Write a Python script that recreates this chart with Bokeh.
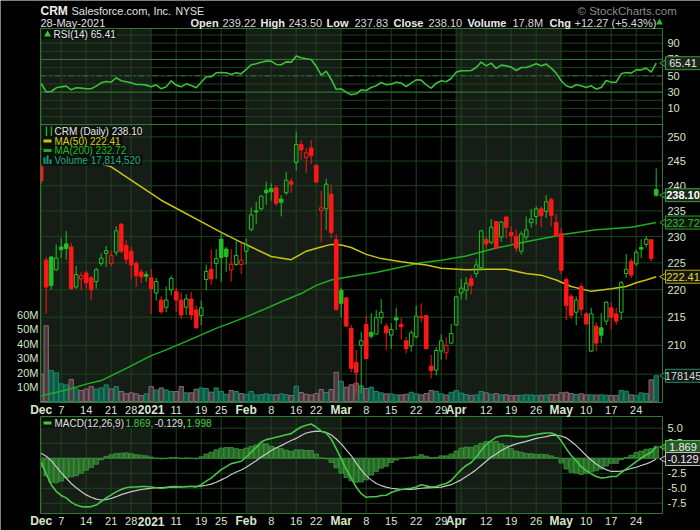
import numpy as np
import pandas as pd
from bokeh.plotting import figure
from bokeh.models import Range1d, LinearScale, LogScale, ColumnDataSource
from bokeh.core.properties import value
from bokeh.embed import file_html
from bokeh.resources import INLINE

# ---------------- data ----------------
holidays = ["2020-12-25", "2021-01-01", "2021-01-18", "2021-02-15", "2021-04-02"]
dates = pd.bdate_range("2020-12-01", "2021-05-28", freq="C", holidays=holidays)

opens = [243.9, 225.5, 226.1, 223.7, 228.0, 228.6, 228.0, 220.5, 222.0, 223.1,
         222.2, 221.5, 224.9, 226.8, 224.9, 227.0, 232.4, 228.3, 227.2, 224.9,
         223.3, 222.8, 222.2, 219.4, 218.1, 216.8, 220.0, 219.7, 218.1, 216.8,
         218.3, 216.3, 215.3, 221.9, 223.8, 224.9, 229.5, 227.6, 223.7, 224.7,
         224.7, 227.2, 231.4, 235.0, 235.4, 239.1, 239.4, 239.6, 237.3, 238.6,
         240.8, 244.7, 248.4, 245.7, 247.7, 244.1, 235.1, 235.4, 238.3, 229.4,
         219.9, 218.5, 213.0, 207.0, 210.0, 213.7, 212.3, 212.0, 214.9, 213.4,
         211.8, 214.9, 213.7, 210.8, 209.9, 211.5, 215.1, 215.3, 206.4, 205.7,
         209.0, 208.7, 210.4, 213.6, 219.4, 219.9, 222.0, 223.0, 224.1, 229.4,
         228.9, 232.9, 229.9, 233.8, 230.8, 230.0, 227.2, 229.9, 232.7, 233.9,
         235.4, 234.9, 237.2, 232.7, 230.6, 221.9, 218.8, 215.9, 220.6, 215.6,
         209.0, 213.4, 213.1, 214.3, 216.7, 215.6, 215.9, 223.0, 225.3, 224.8,
         227.9, 228.5, 229.4, 239.22]
highs = [244.6, 226.1, 226.3, 228.5, 229.7, 231.1, 228.8, 224.4, 223.3, 223.5,
         222.6, 224.1, 226.8, 228.2, 227.3, 232.0, 232.6, 229.3, 228.0, 225.3,
         223.8, 223.4, 223.8, 222.2, 218.8, 220.6, 222.6, 220.4, 219.5, 219.2,
         219.6, 217.1, 218.0, 224.7, 227.5, 227.6, 230.6, 228.0, 227.6, 229.3,
         228.8, 229.7, 235.7, 236.8, 238.1, 240.8, 240.5, 240.0, 238.1, 242.8,
         241.5, 251.1, 249.3, 247.7, 249.3, 244.3, 239.0, 241.4, 240.2, 230.4,
         220.4, 218.7, 213.6, 209.2, 212.4, 215.3, 215.7, 216.3, 218.3, 213.9,
         213.9, 216.7, 214.9, 211.5, 212.7, 217.1, 217.5, 215.4, 208.3, 209.7,
         211.9, 211.4, 213.8, 218.8, 222.0, 222.3, 222.7, 225.7, 231.3, 229.9,
         233.4, 233.0, 233.0, 233.9, 232.0, 231.3, 231.0, 233.9, 235.4, 235.9,
         235.9, 238.1, 237.6, 234.4, 231.6, 222.3, 219.2, 218.8, 221.2, 215.9,
         216.7, 214.1, 215.7, 217.9, 217.7, 216.7, 221.6, 226.7, 225.8, 227.5,
         229.5, 230.1, 229.5, 243.50]
lows = [240.4, 215.6, 220.0, 223.5, 225.9, 225.6, 220.0, 220.1, 219.9, 220.2,
        218.1, 220.2, 224.4, 224.2, 224.4, 226.4, 226.8, 224.7, 222.0, 220.5,
        221.3, 221.5, 215.6, 218.0, 215.6, 215.9, 219.0, 215.9, 214.7, 215.4,
        214.5, 213.0, 213.6, 219.9, 220.9, 222.0, 221.5, 223.3, 221.5, 224.4,
        222.9, 224.7, 231.0, 232.4, 235.0, 236.2, 237.0, 236.0, 233.9, 238.1,
        238.6, 243.1, 245.3, 242.6, 244.4, 240.5, 228.9, 231.3, 229.7, 216.2,
        215.0, 213.3, 205.3, 201.7, 201.7, 207.5, 211.2, 211.9, 213.8, 209.2,
        209.4, 212.7, 211.0, 208.6, 208.9, 211.2, 214.1, 209.3, 204.3, 204.8,
        207.5, 207.5, 210.2, 213.5, 218.2, 218.2, 219.2, 222.3, 223.5, 227.5,
        228.5, 227.6, 229.0, 229.7, 228.8, 227.0, 226.6, 229.2, 231.7, 232.3,
        231.8, 233.6, 232.0, 229.9, 222.9, 214.5, 214.7, 213.6, 215.3, 213.6,
        208.8, 209.0, 210.4, 213.6, 212.8, 213.7, 214.5, 222.2, 222.2, 224.4,
        225.9, 227.9, 225.3, 237.83]
closes = [241.0, 220.5, 220.8, 225.9, 227.5, 227.7, 220.2, 222.8, 222.6, 221.3,
          220.0, 223.7, 225.9, 227.3, 226.4, 231.1, 227.2, 225.7, 224.6, 222.6,
          222.4, 222.5, 220.2, 221.5, 216.0, 218.1, 222.1, 218.1, 215.4, 218.3,
          215.4, 213.1, 216.7, 223.4, 222.0, 225.8, 226.0, 226.2, 224.7, 226.4,
          225.5, 228.5, 234.2, 234.8, 237.9, 238.6, 238.8, 236.5, 236.7, 241.1,
          240.3, 248.4, 247.3, 246.7, 246.1, 240.7, 235.6, 240.3, 230.8, 216.4,
          217.5, 213.4, 206.0, 205.3, 210.8, 207.7, 211.6, 214.9, 215.9, 212.2,
          212.8, 214.5, 213.3, 209.4, 212.2, 215.2, 214.9, 209.4, 205.6, 209.1,
          210.8, 210.0, 212.1, 218.7, 220.3, 221.2, 220.8, 224.6, 231.1, 228.6,
          231.8, 227.8, 232.8, 231.8, 230.2, 227.8, 230.5, 231.3, 233.4, 235.4,
          234.1, 236.8, 234.1, 230.2, 223.6, 217.1, 215.3, 218.1, 216.4, 213.8,
          215.6, 210.4, 211.8, 217.7, 215.0, 214.3, 221.3, 223.8, 222.7, 227.0,
          227.6, 229.5, 225.83, 238.10]
volume_m = [19.0, 52.4, 21.4, 19.8, 12.2, 11.5, 15.2, 8.7, 7.6, 8.7,
            10.3, 8.5, 9.4, 11.5, 8.7, 10.3, 6.9, 5.3, 6.0, 5.3,
            4.1, 5.3, 10.3, 8.0, 9.4, 8.0, 6.9, 6.9, 10.3, 6.0,
            6.0, 8.5, 9.4, 9.0, 6.5, 9.4, 7.0, 5.0, 7.6, 6.9,
            5.5, 5.0, 6.9, 4.5, 4.8, 5.3, 4.6, 4.6, 5.3, 4.8,
            4.2, 10.6, 6.2, 5.0, 4.5, 5.5, 8.3, 6.2, 8.3, 20.2,
            14.0, 9.9, 11.5, 12.6, 10.8, 9.0, 9.9, 6.9, 6.0, 5.3,
            5.3, 4.6, 4.6, 5.0, 6.4, 5.3, 4.6, 5.5, 7.6, 7.1,
            5.3, 4.5, 6.4, 7.6, 5.8, 4.8, 4.2, 4.6, 6.9, 6.0,
            5.0, 5.5, 4.6, 4.6, 4.0, 4.2, 4.4, 4.6, 4.6, 4.2,
            4.4, 4.5, 4.8, 4.6, 6.0, 6.4, 5.5, 4.8, 5.3, 4.6,
            4.6, 4.5, 4.6, 4.4, 4.2, 4.2, 7.6, 7.1, 4.6, 4.2,
            6.0, 5.5, 15.0, 17.81]
ma50_day = [0, 6, 14, 24, 36, 40, 42, 46, 50, 53, 56, 58, 60, 62, 65, 68, 72, 77,
            80, 85, 89, 93, 97, 100, 103, 106, 110, 114, 117, 119, 121, 123]
ma50_val = [247.6, 246.3, 243.8, 237.1, 230.8, 228.9, 228.0, 226.2, 225.6, 227.2,
            228.0, 228.5, 228.4, 227.9, 226.6, 225.8, 225.2, 224.6, 224.0, 223.7,
            223.8, 223.8, 223.0, 222.7, 221.8, 220.6, 219.7, 220.2, 220.6, 221.3,
            221.8, 222.41]
ma200_day = [0, 2, 5, 9, 12, 17, 22, 25, 29, 35, 40, 44, 48, 52, 55, 58, 61, 67,
             70, 76, 80, 85, 91, 98, 105, 111, 118, 123]
ma200_val = [201.3, 201.7, 202.3, 203.3, 203.9, 206.0, 208.2, 209.2, 210.7, 213.0,
             214.7, 216.2, 217.8, 219.3, 220.8, 221.8, 222.3, 223.2, 223.8, 225.0,
             225.5, 226.3, 227.8, 229.2, 230.5, 231.3, 231.8, 232.72]
rsi14 = [40.6, 30.4, 30.8, 35.3, 36.5, 37.4, 32.9, 35.3, 34.9, 34.1,
         34.1, 37.4, 41.4, 43.1, 42.2, 47.6, 43.9, 42.7, 41.4, 39.4,
         39.4, 38.6, 36.5, 39.0, 34.1, 36.5, 43.9, 38.6, 36.5, 40.2,
         38.2, 35.3, 42.2, 48.8, 48.8, 53.7, 54.1, 53.7, 51.6, 53.7,
         52.4, 57.8, 63.5, 64.7, 66.7, 68.0, 68.0, 63.9, 63.5, 67.1,
         66.7, 74.1, 72.0, 70.8, 70.0, 61.8, 50.8, 55.7, 45.5, 33.3,
         34.1, 30.0, 26.7, 28.0, 32.9, 32.0, 35.7, 37.8, 41.8, 39.0,
         39.8, 42.2, 41.0, 36.9, 41.0, 45.1, 44.7, 39.0, 34.9, 41.0,
         43.9, 42.7, 46.7, 54.5, 56.1, 56.1, 56.5, 60.2, 66.7, 62.2,
         65.5, 59.0, 63.1, 62.2, 60.6, 56.5, 60.2, 60.2, 62.2, 64.7,
         62.2, 64.3, 59.4, 53.3, 43.9, 37.8, 35.7, 39.0, 37.8, 35.7,
         37.8, 33.7, 35.7, 44.3, 42.2, 42.2, 52.4, 54.1, 53.3, 57.3,
         57.3, 59.4, 54.5, 65.41]
macd_line = [-0.66, -2.6, -4.4, -5.5, -6.2, -6.6, -7.3, -7.8, -8.05, -8.1,
             -8.05, -7.8, -7.2, -6.6, -6.1, -5.6, -5.2, -4.9, -4.8, -4.8,
             -4.7, -4.7, -4.8, -4.9, -5.0, -4.9, -4.7, -4.7, -4.8, -4.7,
             -4.7, -4.8, -4.4, -3.8, -3.3, -2.6, -1.9, -1.4, -0.9, -0.7,
             -0.5, 0.2, 1.0, 1.8, 2.7, 3.1, 3.3, 3.5, 3.7, 3.9,
             4.1, 4.7, 5.2, 5.5, 5.7, 5.2, 4.5, 4.2, 3.2, 1.6,
             -0.1, -1.8, -3.3, -4.8, -5.9, -6.5, -6.4, -6.4, -6.2, -6.15,
             -5.7, -5.4, -5.2, -5.1, -5.0, -4.8, -4.4, -4.6, -4.8, -4.7,
             -4.4, -4.2, -3.7, -2.8, -1.9, -1.2, -0.7, 0.2, 1.3, 2.3,
             2.9, 3.5, 3.7, 3.8, 3.7, 3.6, 3.6, 3.6, 3.8, 3.95,
             4.1, 4.2, 4.2, 3.9, 2.9, 1.6, 0.45, -0.4, -1.4, -2.05,
             -2.6, -3.05, -3.3, -3.2, -3.05, -3.05, -2.4, -1.8, -1.2, -0.55,
             0.0, 0.55, 1.0, 1.869]
macd_signal = [0.84, 0.34, -0.4, -1.4, -2.4, -3.3, -4.2, -4.9, -5.55, -6.1,
               -6.5, -6.8, -6.95, -6.9, -6.7, -6.4, -6.05, -5.8, -5.55, -5.4,
               -5.2, -5.1, -5.0, -4.9, -4.9, -4.85, -4.8, -4.8, -4.75, -4.75,
               -4.7, -4.7, -4.65, -4.5, -4.3, -4.0, -3.6, -3.2, -2.7, -2.3,
               -1.95, -1.5, -0.95, -0.4, 0.2, 0.7, 1.3, 1.7, 2.1, 2.55,
               2.95, 3.3, 3.8, 4.2, 4.4, 4.5, 4.45, 4.3, 3.9, 3.2,
               2.4, 1.4, 0.45, -0.8, -1.95, -2.9, -3.6, -4.2, -4.55, -4.8,
               -5.0, -5.1, -5.2, -5.2, -5.2, -5.1, -5.0, -4.95, -4.9, -4.85,
               -4.8, -4.6, -4.4, -4.0, -3.6, -3.05, -2.5, -1.9, -1.2, -0.5,
               0.2, 0.7, 1.3, 1.7, 2.1, 2.4, 2.6, 2.8, 3.05, 3.3,
               3.45, 3.6, 3.8, 3.8, 3.7, 3.4, 2.8, 2.1, 1.3, 0.45,
               -0.3, -0.95, -1.5, -1.9, -2.2, -2.2, -2.15, -1.95, -1.7, -1.5,
               -1.2, -0.95, -0.6, -0.129]
price_ticks = [205, 210, 215, 220, 225, 230, 235, 240, 245, 250]
volume_ticks = [10, 20, 30, 40, 50, 60]
rsi_ticks = [10, 30, 50, 70, 90]
rsi_grid = [0, 10, 20, 30, 40, 50, 60, 70, 80, 90, 100]
macd_ticks = [-7.5, -5.0, -2.5, 0.0, 2.5, 5.0]

# ---------------- layout (canvas pixels, origin top-left) ----------------
FONT = "Liberation Sans"
BAND = "#161d16"
GRID = "#1c441c"
OUTLINE = "#2f7a2f"
AXTXT = "#d3e6cb"
GREEN = "#21c021"
RED = "#ff1717"
W, H = 700, 530
PL, PR = 40, 662                      # plot area left / right
RSI_T, RSI_B = 28, 124
PRC_T, PRC_B = 124, 402
MAC_T, MAC_B = 416, 513
XLAB1, XLAB2 = 409, 520.5

n = len(dates)
idx = np.arange(n)
o = np.array(opens); h = np.array(highs); l = np.array(lows); c = np.array(closes)
prev = np.r_[o[0], c[:-1]]
up = c >= prev
hollow = c > o
col = np.where(up, GREEN, RED)
top = np.maximum(o, c); bot = np.minimum(o, c)
hist = np.array(macd_line) - np.array(macd_signal)

month_starts = [0] + [i for i in range(1, n) if dates[i].month != dates[i - 1].month]
week_starts = [i for i in range(1, n) if dates[i].weekday() < dates[i - 1].weekday()]
grid_x = sorted(set(month_starts) | set(week_starts))
tick_items = []
for i in grid_x:
    if i in month_starts:
        tick_items.append((i, "2021" if dates[i].month == 1 else dates[i].strftime("%b"), True))
    elif not any(0 < i - m <= 2 for m in month_starts):
        tick_items.append((i, str(dates[i].day), False))

X0, X1 = -0.14, 124.26                # day-index extent of the plot area
PX = (PR - PL) / (X1 - X0)
bands = [(X0 if k == 0 else month_starts[k], month_starts[k + 1])
         for k in range(0, len(month_starts) - 1, 2)]


def ext_range(vbot, vtop, pbot, ptop, log=False):
    f = np.log if log else (lambda v: v)
    g = np.exp if log else (lambda v: v)
    a, b = f(vbot), f(vtop)
    k = (b - a) / (pbot - ptop)
    return Range1d(start=float(g(a - (H - pbot) * k)), end=float(g(b + ptop * k)))


p = figure(width=W, height=H, x_range=Range1d(0, W), y_range=Range1d(H, 0),
           title=None, x_axis_location=None, y_axis_location=None, min_border=0,
           output_backend="svg", toolbar_location=None, outline_line_color=None,
           background_fill_color="black", border_fill_color="black")
p.xgrid.visible = False
p.ygrid.visible = False
p.extra_x_ranges = {"day": Range1d(X0 - PL / PX, X1 + (W - PR) / PX)}
p.extra_x_scales = {"day": LinearScale()}
p.extra_y_ranges = {"rsi": ext_range(-9.6, 107.9, RSI_B, RSI_T),
                    "price": ext_range(200.2, 252.6, PRC_B, PRC_T, log=True),
                    "vol": ext_range(0, 191.7, PRC_B - 1, PRC_T),
                    "macd": ext_range(-9.2, 6.95, MAC_B, MAC_T)}
p.extra_y_scales = {"rsi": LinearScale(), "price": LogScale(),
                    "vol": LinearScale(), "macd": LinearScale()}
D = dict(x_range_name="day")


def txt(xs, ys, texts, color, size="11px", bold=False, align="left", **kw):
    p.text(x=xs, y=ys, text=texts, text_color=color, text_font=value(FONT),
           text_font_size=value(size), text_font_style="bold" if bold else "normal",
           text_align=align, text_baseline="middle", **kw)


panels = [(RSI_T, RSI_B), (PRC_T, PRC_B), (MAC_T, MAC_B)]
# month bands and vertical grid
for t, b in panels:
    p.quad(left=[a for a, _ in bands], right=[z for _, z in bands], top=t, bottom=b,
           fill_color=BAND, line_color=None, **D)
    p.segment(x0=grid_x, y0=t, x1=grid_x, y1=b, line_color=GRID, line_width=1, **D)
# horizontal grid
p.segment(x0=X0, y0=rsi_grid, x1=X1, y1=rsi_grid, line_color=GRID, y_range_name="rsi", **D)
p.segment(x0=X0, y0=[30, 70], x1=X1, y1=[30, 70], line_color="#2c7a2c",
          y_range_name="rsi", **D)
p.segment(x0=X0, y0=50, x1=X1, y1=50, line_color="#2c7a2c", line_dash="6 3 2 3",
          y_range_name="rsi", **D)
p.segment(x0=X0, y0=price_ticks, x1=X1, y1=price_ticks, line_color=GRID,
          y_range_name="price", **D)
p.segment(x0=X0, y0=macd_ticks, x1=X1, y1=macd_ticks, line_color=GRID,
          y_range_name="macd", **D)

# ---- price panel ----
vsrc = ColumnDataSource(dict(x=idx, v=volume_m,
                             fc=np.where(up, "#0c5946", "#4a3a40"),
                             lc=np.where(up, "#208868", "#8a6b72")))
p.vbar(x="x", top="v", bottom=0, width=0.86, fill_color="fc", line_color="lc",
       line_width=1, source=vsrc, y_range_name="vol", **D)
p.line(ma200_day, ma200_val, line_color="#1fae1f", line_width=1.5, y_range_name="price", **D)
p.line(ma50_day, ma50_val, line_color="#c9c312", line_width=1.5, y_range_name="price", **D)
csrc = ColumnDataSource(dict(x=idx, h=h, l=l, top=top, bot=bot, col=col,
                             fa=np.where(hollow, 0.0, 1.0)))
p.segment(x0="x", y0="h", x1="x", y1="top", line_color="col", line_width=1,
          source=csrc, y_range_name="price", **D)
p.segment(x0="x", y0="bot", x1="x", y1="l", line_color="col", line_width=1,
          source=csrc, y_range_name="price", **D)
p.vbar(x="x", top="top", bottom="bot", width=0.72, fill_color="col", fill_alpha="fa",
       line_color="col", line_width=1, source=csrc, y_range_name="price", **D)

# ---- RSI / MACD ----
p.line(idx, rsi14, line_color="#3cbf3c", line_width=1.6, y_range_name="rsi", **D)
p.vbar(x=idx, top=hist, bottom=0, width=0.9, fill_color="#2b7a2b", fill_alpha=0.85,
       line_color="#46a046", line_width=0.7, y_range_name="macd", **D)
p.line(idx, macd_signal, line_color="#c8c8c8", line_width=1.2, y_range_name="macd", **D)
p.line(idx, macd_line, line_color="#46c846", line_width=1.6, y_range_name="macd", **D)

# keep marks inside the plot area on the left edge
p.quad(left=30, right=PL - 0.5, top=[t for t, _ in panels], bottom=[b for _, b in panels],
       fill_color="black", line_color=None)
# panel frames
p.quad(left=PL, right=PR, top=[t for t, _ in panels], bottom=[b for _, b in panels],
       fill_color=None, line_color=OUTLINE, line_width=1)

# ---- axis texts ----
txt([PR + 5] * len(price_ticks), price_ticks, [str(v) for v in price_ticks], AXTXT,
    y_range_name="price")
txt([PR + 5] * len(rsi_ticks), rsi_ticks, [str(v) for v in rsi_ticks], AXTXT,
    y_range_name="rsi")
txt([PR + 5] * len(macd_ticks), macd_ticks, [f"{v:.1f}" for v in macd_ticks], AXTXT,
    y_range_name="macd")
txt([PL - 2] * len(volume_ticks), volume_ticks, [f"{v}M" for v in volume_ticks], AXTXT,
    align="right", y_range_name="vol")
for yl in (XLAB1, XLAB2):
    for bold in (True, False):
        items = [(i, t) for i, t, b in tick_items if b == bold]
        txt([i for i, _ in items], yl, [t for _, t in items], "#d8e8cc",
            size="12px" if bold else "11px", bold=bold, align="center", **D)

# ---- legends ----
LBG = "#0a0e0a"
p.quad(left=PL + 1, right=[116, 142, 122, 127, 142, 212],
       top=[28.5, 126, 135.5, 145, 154.5, 417],
       bottom=[38.5, 135.5, 145, 154.5, 165, 428], fill_color=LBG, fill_alpha=0.92,
       line_color=None)
p.scatter([47], [34], marker="triangle", size=7, fill_color="#3cbf3c", line_color=None)
txt([53], [33.5], ["RSI(14) 65.41"], "#e8e8e8", size="10px")
txt([43], [131], ["\u2503\u2503"], GREEN, size="8px")
txt([54], [131], ["CRM (Daily) 238.10"], "#e8e8e8", size="10px")
p.segment(x0=[43, 43], y0=[140.5, 150], x1=[51, 51], y1=[140.5, 150],
          line_color=["#c9c312", "#1fae1f"], line_width=3)
txt([54], [140.5], ["MA(50) 222.41"], "#d6cf18", size="10px")
txt([54], [150], ["MA(200) 232.72"], "#22b822", size="10px")
p.quad(left=[43, 46, 49], right=[45, 48, 51], top=[157, 155, 159], bottom=163.5,
       fill_color="#1a9a78", line_color=None)
txt([54], [160], ["Volume 17,814,520"], "#1fa886", size="10px")
p.segment(x0=43, y0=422.5, x1=51, y1=422.5, line_color="#46c846", line_width=3)
txt([54], [422.5], ["MACD(12,26,9)"], "#e0e0e0", size="10px")
txt([125], [422.5], ["1.869,"], "#4ccc4c", size="10px")
txt([154], [422.5], ["-0.129,"], "#e0e0e0", size="10px")
txt([186], [422.5], ["1.998"], "#4ccc4c", size="10px")


# ---- value tags on the right ----
def tag(v, text, color, border, fill, rng, bold=False):
    p.scatter(x=[665], y=[v], marker="triangle", angle=np.pi / 2, size=10,
              fill_color=fill, line_color=border, y_range_name=rng)
    p.rect(x=[682.5], y=[v], width=35, height=13, height_units="screen",
           fill_color=fill, line_color=border, line_width=1, y_range_name=rng)
    txt([682.5], [v], [text], color, size="11px", bold=bold, align="center",
        y_range_name=rng)


tag(rsi14[-1], "65.41", "#e6e6e6", "#3c9a3c", "#1a261a", "rsi")
tag(closes[-1], "238.10", "#ffffff", "#3c9a3c", "#1c2a1c", "price", bold=True)
tag(ma200_val[-1], "232.72", "#2cc02c", "#2a9a2a", "#0e160e", "price")
tag(ma50_val[-1], "222.41", "#e0da40", "#b8b020", "#16160a", "price")
tag(volume_m[-1], "178145", "#d8d8d8", "#2a8a6a", "#0e1612", "vol")
tag(macd_line[-1], "1.869", "#eeeeee", "#46c846", "#2a5a2a", "macd")
tag(macd_signal[-1], "-0.129", "#eeeeee", "#bdbdbd", "#1a1a1a", "macd")

# ---- header ----
txt([40], [10], ["CRM"], "#eeeeee", size="12px", bold=True)
txt([71], [10], ["Salesforce.com, Inc."], "#e0e0e0", size="11px")
txt([175], [10], ["NYSE"], "#e0e0e0", size="10.5px")
txt([577], [10], ["\u00a9 StockCharts.com"], "#8c8c8c", size="11.5px")
txt([40], [22], ["28-May-2021"], "#e0e0e0", size="11px")
hdr_bold = [(190, "Open"), (260, "High"), (326, "Low"), (393, "Close"), (467, "Volume"),
            (549, "Chg")]
hdr_vals = [(222, "239.22"), (288, "243.50"), (354, "237.83"), (428, "238.10"),
            (512, "17.8M"), (574, "+12.27 (+5.43%)")]
txt([x for x, _ in hdr_bold], 22, [t for _, t in hdr_bold], "#eaeaea", bold=True)
txt([x for x, _ in hdr_vals], 22, [t for _, t in hdr_vals], "#d8d8d8")
p.scatter([659], [22], marker="triangle", size=7, fill_color=GREEN, line_color=None)

open("out.html", "w").write(file_html(p, INLINE))
